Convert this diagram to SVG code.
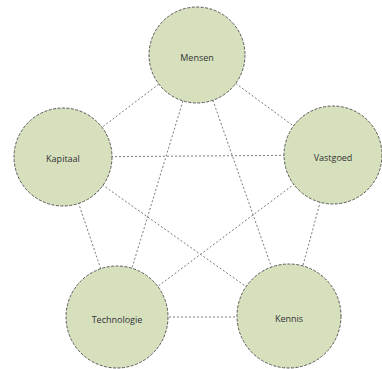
<svg xmlns="http://www.w3.org/2000/svg" width="382" height="369" viewBox="0 0 382 369">
<style>
.c{fill:#d6e0bd;stroke:#5a5a5a;stroke-width:1;stroke-dasharray:3 1.5}
.e{stroke:#7a7a7a;stroke-width:1;stroke-dasharray:2 2;fill:none}
.t{font-family:"Open Sans","Liberation Sans",sans-serif;font-size:9px;fill:#333;text-anchor:middle;dominant-baseline:central}
</style>
<rect width="382" height="369" fill="#fff"/>
<g id="connectors">
<line class="e" x1="197" y1="55" x2="63" y2="157"/>
<line class="e" x1="197" y1="55" x2="333" y2="155"/>
<line class="e" x1="197" y1="55" x2="117" y2="317"/>
<line class="e" x1="197" y1="55" x2="289" y2="317"/>
<line class="e" x1="63" y1="157" x2="333" y2="155"/>
<line class="e" x1="63" y1="157" x2="289" y2="317"/>
<line class="e" x1="63" y1="157" x2="117" y2="317"/>
<line class="e" x1="333" y1="155" x2="117" y2="317"/>
<line class="e" x1="333" y1="155" x2="289" y2="317"/>
<line class="e" x1="117" y1="317" x2="289" y2="317"/>
</g>
<g id="mensen"><circle class="c" cx="197" cy="55" r="48"/><text class="t" x="197" y="57">Mensen</text></g>
<g id="kapitaal"><circle class="c" cx="63" cy="157" r="49"/><text class="t" x="63" y="158">Kapitaal</text></g>
<g id="vastgoed"><circle class="c" cx="333" cy="155" r="49"/><text class="t" x="333" y="157">Vastgoed</text></g>
<g id="technologie"><circle class="c" cx="117" cy="317" r="51"/><text class="t" x="117" y="319">Technologie</text></g>
<g id="kennis"><circle class="c" cx="289" cy="316" r="52"/><text class="t" x="289" y="318">Kennis</text></g>
</svg>
